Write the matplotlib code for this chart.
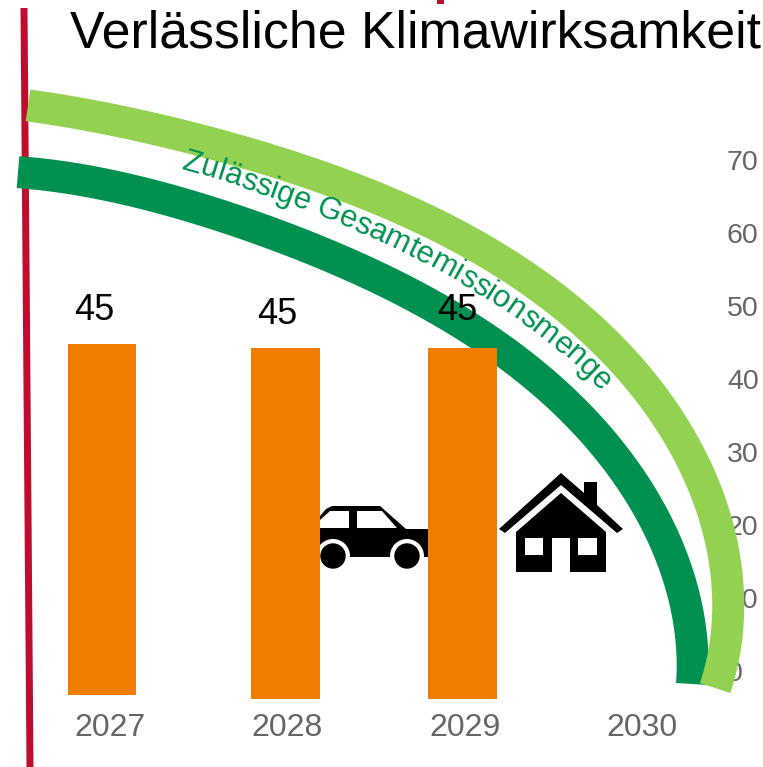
import numpy as np
import matplotlib
matplotlib.use("Agg")
import matplotlib.pyplot as plt
from matplotlib import font_manager as fm
from matplotlib.ft2font import LoadFlags
from matplotlib.patches import Polygon, Circle
from matplotlib.transforms import Affine2D

years = [2027, 2028, 2029, 2030]
y_ticks = [0, 10, 20, 30, 40, 50, 60, 70]
bar_x = [2026.955, 2027.99, 2028.988]
bar_top = [44.8, 44.25, 44.25]
bar_bottom = [-3.3, -3.85, -3.85]
bar_labels = ["45", "45", "45"]
title = "Verlässliche Klimawirksamkeit"
arc_label = "Zulässige Gesamtemissionsmenge"

W, H = 763, 767
ORANGE, DARK, LIGHT, RED, GRAY = "#F07D00", "#009150", "#92D250", "#C00D2D", "#666666"
plt.rcParams["font.family"] = "Liberation Sans"

fig = plt.figure(figsize=(W / 100, H / 100), dpi=100, facecolor="white")
L, R, T, B = 0, 722, 0, 709
ax = fig.add_axes([L / W, 1 - B / H, (R - L) / W, (B - T) / H])
ax.patch.set_alpha(0)
for s in ax.spines.values():
    s.set_visible(False)
xpx = lambda p: 2027 + (p - 110) / 177.33
ypx = lambda p: (671 - p) / 7.3
ax.set_xlim(xpx(L), xpx(R))
ax.set_ylim(ypx(B), ypx(T))
ax.set_xticks(years, [str(y) for y in years])
ax.set_yticks(y_ticks, [str(v) for v in y_ticks])
ax.yaxis.tick_right()
ax.tick_params(axis="x", length=0, pad=3, labelsize=23, labelcolor=GRAY)
ax.tick_params(axis="y", length=0, pad=3.6, labelsize=20.5, labelcolor=GRAY)
ax.set_axisbelow(True)

px = Affine2D().scale(1 / W, -1 / H).translate(0, 1) + fig.transFigure


def poly(points, color, z):
    ax.add_patch(Polygon(points, closed=True, fc=color, ec="none", transform=px, zorder=z, clip_on=False))


def smooth(pts, n=300, pivot=(50, 700), deg=4):
    """Smooth curve through the read-off points: radius as a low-order function of angle about a pivot."""
    p = np.array(pts, float) - pivot
    th = np.arctan2(-p[:, 1], p[:, 0])
    r = np.hypot(p[:, 0], p[:, 1])
    c = np.polyfit(th, r, deg)
    t = np.linspace(th[0], th[-1], n)
    rr = np.polyval(c, t)
    return np.column_stack([pivot[0] + rr * np.cos(t), pivot[1] - rr * np.sin(t)])


# red line
poly([(20.5, 8), (27.5, 8), (33.5, 767), (26.5, 767)], RED, 0.7)
poly([(437, 0), (444, 0), (444, 4), (437, 4)], RED, 0.7)

# arcs
dark_pts = [(18, 172), (200, 210), (400, 285), (497, 351), (601, 440), (657, 520), (684, 600), (692, 684)]
light_pts = [(28, 105), (200, 142), (400, 204), (533, 283), (572, 315), (622, 362), (683, 440), (718, 520), (727, 600), (715, 688)]
dark_c = smooth(dark_pts)
light_c = smooth(light_pts)
ax.plot(dark_c[:, 0], dark_c[:, 1], color=DARK, lw=32 * .72, solid_capstyle="butt", transform=px, zorder=1, clip_on=False)
ax.plot(light_c[:, 0], light_c[:, 1], color=LIGHT, lw=32 * .72, solid_capstyle="butt", transform=px, zorder=1.1, clip_on=False)

# car (behind bars)
poly([(308, 529), (320, 516), (326, 509), (332, 506), (380, 506), (406, 529), (440, 529), (440, 557), (308, 557)], "black", 0.8)
poly([(320, 520), (330, 511), (349, 511), (349, 528), (320, 528)], "white", 0.81)
poly([(357, 511), (382, 511), (397, 528), (357, 528)], "white", 0.81)
for cx in (333, 407):
    ax.add_patch(Circle((cx, 556), 17, fc="white", ec="none", transform=px, zorder=0.82))
poly([(308, 557), (440, 557), (440, 575), (308, 575)], "white", 0.825)
for cx in (333, 407):
    ax.add_patch(Circle((cx, 556), 12.7, fc="black", ec="none", transform=px, zorder=0.83))

# house
poly([(561, 473), (584, 493), (584, 482), (597, 482), (597, 505), (623, 529), (617, 533), (561, 485), (505, 533), (499, 529)], "black", 0.8)
poly([(561, 493), (606, 532), (606, 572), (570, 572), (570, 538), (552, 538), (552, 572), (516, 572), (516, 532)], "black", 0.8)
poly([(525, 538), (543, 538), (543, 555), (525, 555)], "white", 0.81)
poly([(578, 538), (597, 538), (597, 555), (578, 555)], "white", 0.81)

# bars
ax.bar(bar_x, np.array(bar_top) - np.array(bar_bottom), bottom=bar_bottom,
       width=68.5 / 177.33, color=ORANGE, zorder=2)

# value labels
for x, lab, yp in zip([94, 277, 457], bar_labels, [320.5, 323.5, 320.5]):
    ax.text(x, yp, lab, transform=px, ha="center", va="baseline", fontsize=26, color="black", zorder=3)

# title
ax.text(70.5, 47, title, transform=px, ha="left", va="baseline", fontsize=37.3, color="black", zorder=3, clip_on=False)

# curved label: baseline runs parallel to the dark arc
tang = np.gradient(dark_c, axis=0)
tang /= np.linalg.norm(tang, axis=1, keepdims=True)
normal = np.column_stack([tang[:, 1], -tang[:, 0]])
base = dark_c + 33 * normal
seg = np.r_[0, np.cumsum(np.linalg.norm(np.diff(base, axis=0), axis=1))]
start = seg[np.argmin(np.linalg.norm(base - np.array([182, 170]), axis=1))]
fs = 22.2
fp = fm.FontProperties(family="Liberation Sans")
font = fm.get_font(fm.findfont(fp))
font.set_size(fs, 100)
pos = start
for ch in arc_label:
    adv = font.load_char(ord(ch), flags=LoadFlags.NO_HINTING).linearHoriAdvance / 65536
    mid = pos + adv / 2
    xm, ym = np.interp(mid, seg, base[:, 0]), np.interp(mid, seg, base[:, 1])
    tx, ty = np.interp(mid, seg, tang[:, 0]), np.interp(mid, seg, tang[:, 1])
    ax.text(xm, ym, ch, transform=px, ha="center", va="baseline", rotation=-np.degrees(np.arctan2(ty, tx)),
            rotation_mode="anchor", fontsize=fs, color=DARK, zorder=3, clip_on=False)
    pos += adv

fig.savefig("out.png", dpi=100)
